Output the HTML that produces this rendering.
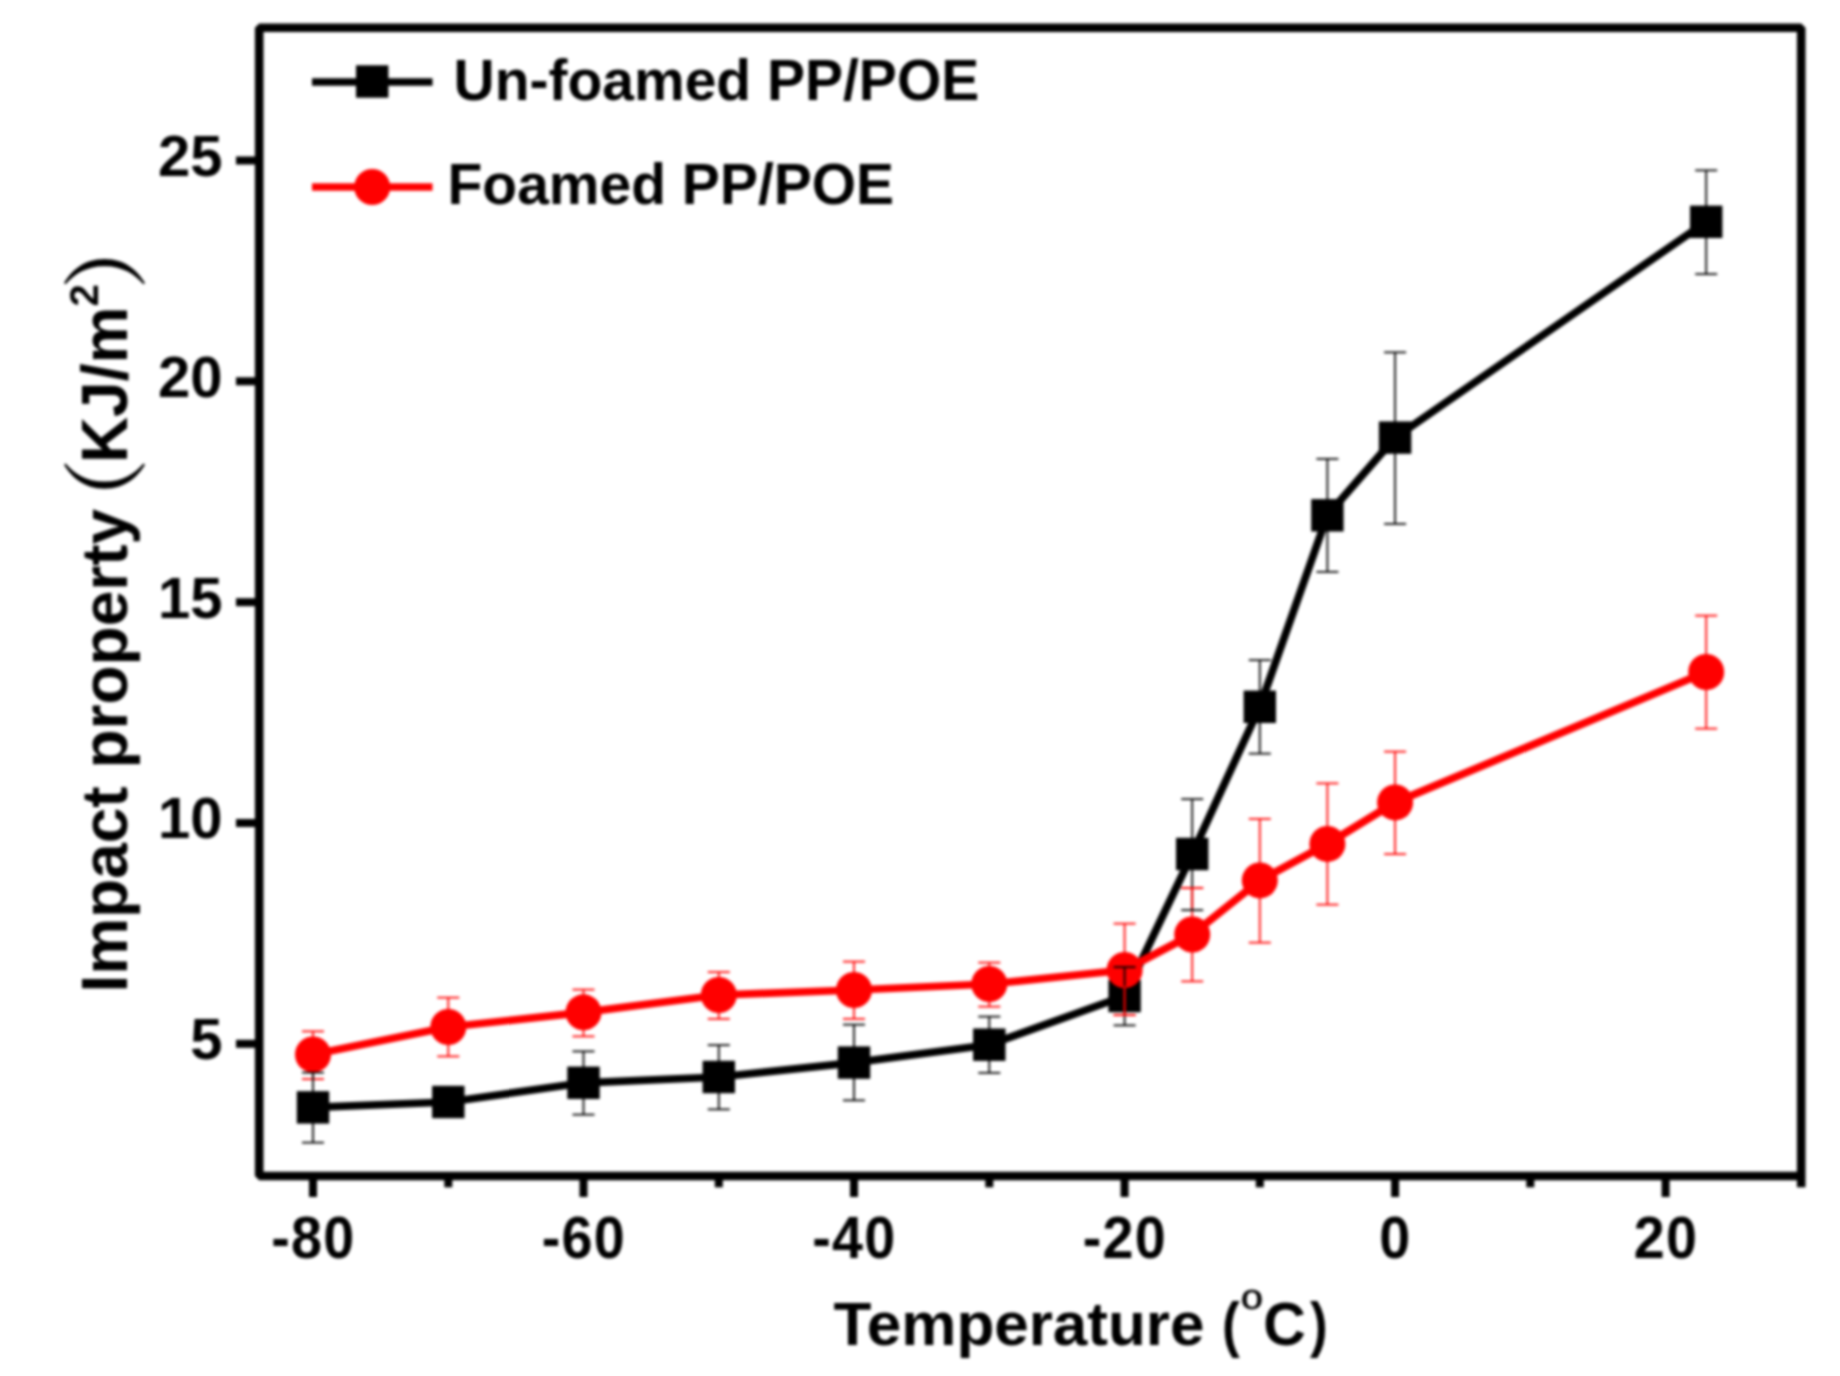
<!DOCTYPE html>
<html lang="en"><head><meta charset="utf-8"><title>Impact property vs temperature</title>
<style>
html,body{margin:0;padding:0;background:#fff;}
body{width:1840px;height:1376px;overflow:hidden;}
svg{display:block;filter:blur(1.45px);}
text{font-family:"Liberation Sans","Noto Sans CJK SC",sans-serif;font-weight:bold;fill:#000;}
.lp{font-weight:normal;stroke:#000;stroke-width:1.6px;}
.cjk{font-family:"Noto Serif CJK SC","Noto Sans CJK SC",serif;font-weight:600;}
</style></head><body>
<svg width="1840" height="1376" viewBox="0 0 1840 1376">
<rect x="0" y="0" width="1840" height="1376" fill="#fff"/>

<rect x="259.2" y="27.8" width="1542.0" height="1148.2" fill="none" stroke="#000" stroke-width="8.6" stroke-linejoin="bevel"/>
<g stroke="#000" stroke-width="8" fill="none">
<line x1="313.0" y1="1176.0" x2="313.0" y2="1197"/>
<line x1="583.5" y1="1176.0" x2="583.5" y2="1197"/>
<line x1="854.0" y1="1176.0" x2="854.0" y2="1197"/>
<line x1="1124.6" y1="1176.0" x2="1124.6" y2="1197"/>
<line x1="1395.1" y1="1176.0" x2="1395.1" y2="1197"/>
<line x1="1665.6" y1="1176.0" x2="1665.6" y2="1197"/>
<line x1="448.3" y1="1176.0" x2="448.3" y2="1187.3"/>
<line x1="718.8" y1="1176.0" x2="718.8" y2="1187.3"/>
<line x1="989.3" y1="1176.0" x2="989.3" y2="1187.3"/>
<line x1="1259.8" y1="1176.0" x2="1259.8" y2="1187.3"/>
<line x1="1530.3" y1="1176.0" x2="1530.3" y2="1187.3"/>
<line x1="1801.2" y1="1176.0" x2="1801.2" y2="1187.3" stroke-width="8.6"/>
<line x1="236" y1="1043.8" x2="259.2" y2="1043.8"/>
<line x1="236" y1="823" x2="259.2" y2="823"/>
<line x1="236" y1="602.2" x2="259.2" y2="602.2"/>
<line x1="236" y1="381.3" x2="259.2" y2="381.3"/>
<line x1="236" y1="160.5" x2="259.2" y2="160.5"/>
</g>
<g font-size="58" text-anchor="middle" letter-spacing="1.3">
<text transform="translate(313.3,1257.8) scale(0.96,1.035)">-80</text>
<text transform="translate(583.8,1257.8) scale(0.96,1.035)">-60</text>
<text transform="translate(854.3,1257.8) scale(0.96,1.035)">-40</text>
<text transform="translate(1124.9,1257.8) scale(0.96,1.035)">-20</text>
<text transform="translate(1395.4,1257.8) scale(0.96,1.035)">0</text>
<text transform="translate(1665.9,1257.8) scale(0.96,1.035)">20</text>
</g>
<g font-size="58" text-anchor="end">
<text x="222.5" y="1059.1">5</text>
<text x="222.5" y="838.3">10</text>
<text x="222.5" y="617.5">15</text>
<text x="222.5" y="396.6">20</text>
<text x="222.5" y="175.8">25</text>
</g>
<text x="833.5" y="1344.5" font-size="62">Temperature</text>
<text transform="translate(1222,1344.5) scale(0.86,1)" font-size="62">(</text>
<text x="1251.8" y="1309.8" font-size="39" text-anchor="middle" stroke="#fff" stroke-width="1">o</text>
<text x="1263.3" y="1344.5" font-size="62" textLength="42.5" lengthAdjust="spacingAndGlyphs">C</text>
<text transform="translate(1310,1344.5) scale(0.86,1)" font-size="62">)</text>
<g transform="translate(127.3,988.6) rotate(-90)" font-size="64"><text x="-4" y="0">Impact property</text><text class="cjk" x="444.4" y="11" font-size="86">（</text><text x="525.5" y="0">KJ/m<tspan font-size="40" dx="0" dy="-29.4">2</tspan></text><text class="cjk" x="699" y="11" font-size="86">）</text></g>
<polyline points="313.0,1107.4 448.3,1102.0 583.5,1082.8 718.8,1077.0 854.0,1062.6 989.3,1044.7 1124.6,996.0 1192.2,854.0 1259.8,706.8 1327.4,515.3 1395.1,437.6 1706.2,221.8" fill="none" stroke="#000" stroke-width="7.7" stroke-linejoin="round"/>
<rect x="296.8" y="1091.2" width="32.4" height="32.4" fill="#000"/>
<rect x="432.1" y="1085.8" width="32.4" height="32.4" fill="#000"/>
<rect x="567.3" y="1066.6" width="32.4" height="32.4" fill="#000"/>
<rect x="702.6" y="1060.8" width="32.4" height="32.4" fill="#000"/>
<rect x="837.8" y="1046.4" width="32.4" height="32.4" fill="#000"/>
<rect x="973.1" y="1028.5" width="32.4" height="32.4" fill="#000"/>
<rect x="1108.4" y="979.8" width="32.4" height="32.4" fill="#000"/>
<rect x="1176.0" y="837.8" width="32.4" height="32.4" fill="#000"/>
<rect x="1243.6" y="690.6" width="32.4" height="32.4" fill="#000"/>
<rect x="1311.2" y="499.1" width="32.4" height="32.4" fill="#000"/>
<rect x="1378.9" y="421.4" width="32.4" height="32.4" fill="#000"/>
<rect x="1690.0" y="205.6" width="32.4" height="32.4" fill="#000"/>
<polyline points="313.0,1054.5 448.3,1027.0 583.5,1012.3 718.8,995.0 854.0,990.0 989.3,984.0 1124.6,970.0 1192.2,934.5 1259.8,880.4 1327.4,843.9 1395.1,802.4 1706.2,672.0" fill="none" stroke="#f00" stroke-width="7.7" stroke-linejoin="round"/>
<circle cx="313.0" cy="1054.5" r="18" fill="#f00"/>
<circle cx="448.3" cy="1027.0" r="18" fill="#f00"/>
<circle cx="583.5" cy="1012.3" r="18" fill="#f00"/>
<circle cx="718.8" cy="995.0" r="18" fill="#f00"/>
<circle cx="854.0" cy="990.0" r="18" fill="#f00"/>
<circle cx="989.3" cy="984.0" r="18" fill="#f00"/>
<circle cx="1124.6" cy="970.0" r="18" fill="#f00"/>
<circle cx="1192.2" cy="934.5" r="18" fill="#f00"/>
<circle cx="1259.8" cy="880.4" r="18" fill="#f00"/>
<circle cx="1327.4" cy="843.9" r="18" fill="#f00"/>
<circle cx="1395.1" cy="802.4" r="18" fill="#f00"/>
<circle cx="1706.2" cy="672.0" r="18" fill="#f00"/>
<g stroke="#f00" stroke-width="1.75" fill="none">
<path d="M302.0 1031.3H324.0M313.0 1031.3V1079.1M302.0 1079.1H324.0"/>
<path d="M437.3 997.6H459.3M448.3 997.6V1056.3M437.3 1056.3H459.3"/>
<path d="M572.5 989.6H594.5M583.5 989.6V1036.3M572.5 1036.3H594.5"/>
<path d="M707.8 972.2H729.8M718.8 972.2V1018.9M707.8 1018.9H729.8"/>
<path d="M843.0 961.5H865.0M854.0 961.5V1018.9M843.0 1018.9H865.0"/>
<path d="M978.3 962.6H1000.3M989.3 962.6V1006.5M978.3 1006.5H1000.3"/>
<path d="M1113.6 923.5H1135.6M1124.6 923.5V1015M1113.6 1015H1135.6"/>
<path d="M1181.2 888.2H1203.2M1192.2 888.2V981.3M1181.2 981.3H1203.2"/>
<path d="M1248.8 818.9H1270.8M1259.8 818.9V942.7M1248.8 942.7H1270.8"/>
<path d="M1316.4 783.3H1338.4M1327.4 783.3V904.5M1316.4 904.5H1338.4"/>
<path d="M1384.1 751.6H1406.1M1395.1 751.6V854.2M1384.1 854.2H1406.1"/>
<path d="M1695.2 615.5H1717.2M1706.2 615.5V728.7M1695.2 728.7H1717.2"/>
</g>
<g stroke="#000" stroke-width="1.75" fill="none">
<path d="M302.0 1072.6H324.0M313.0 1072.6V1142.6M302.0 1142.6H324.0"/>
<path d="M572.5 1051.3H594.5M583.5 1051.3V1114.6M572.5 1114.6H594.5"/>
<path d="M707.8 1045.2H729.8M718.8 1045.2V1109.3M707.8 1109.3H729.8"/>
<path d="M843.0 1024.6H865.0M854.0 1024.6V1100.4M843.0 1100.4H865.0"/>
<path d="M978.3 1016.7H1000.3M989.3 1016.7V1072.8M978.3 1072.8H1000.3"/>
<path d="M1113.6 967.1H1135.6M1124.6 967.1V1025.3M1113.6 1025.3H1135.6"/>
<path d="M1181.2 799H1203.2M1192.2 799V910M1181.2 910H1203.2"/>
<path d="M1248.8 660.2H1270.8M1259.8 660.2V753.7M1248.8 753.7H1270.8"/>
<path d="M1316.4 458.9H1338.4M1327.4 458.9V571.8M1316.4 571.8H1338.4"/>
<path d="M1384.1 352.3H1406.1M1395.1 352.3V523.8M1384.1 523.8H1406.1"/>
<path d="M1695.2 170.4H1717.2M1706.2 170.4V274.2M1695.2 274.2H1717.2"/>
</g>
<path d="M1124.6 986V1015M1113.6 1015H1135.6" stroke="#f00" stroke-width="1.75" fill="none"/>
<path d="M1192.2 888.2V908.5M1181.2 888.2H1203.2" stroke="#f00" stroke-width="1.75" fill="none"/>
<line x1="312" y1="82" x2="432.5" y2="82" stroke="#000" stroke-width="7.7"/>
<rect x="356.0" y="65.3" width="32.4" height="32.4" fill="#000"/>
<line x1="312" y1="187" x2="432.5" y2="187" stroke="#f00" stroke-width="7.7"/>
<circle cx="372.2" cy="187" r="18" fill="#f00"/>
<text x="453.5" y="100.4" font-size="57">Un-foamed PP/POE</text>
<text x="447.5" y="204" font-size="57">Foamed PP/POE</text>
</svg></body></html>
